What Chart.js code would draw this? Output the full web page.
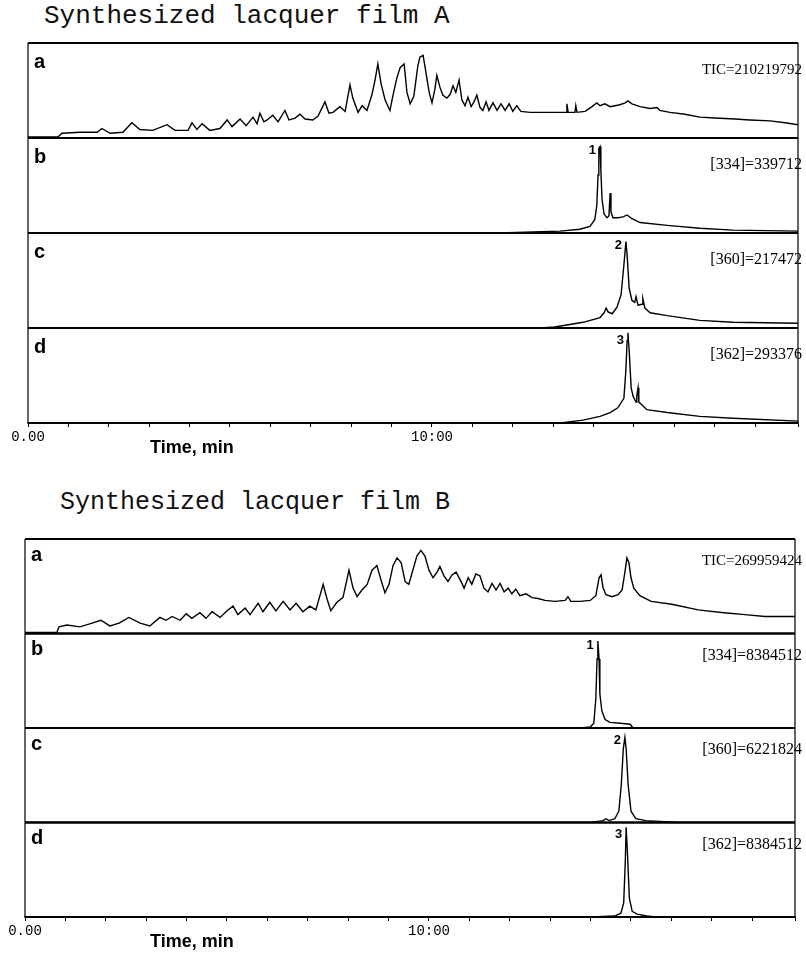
<!DOCTYPE html>
<html>
<head>
<meta charset="utf-8">
<script src="https://cdn.jsdelivr.net/npm/chart.js@4.4.1/dist/chart.umd.min.js"></script>
<style>
  body { margin: 0; background: #fff; width: 806px; height: 954px; position: relative; overflow: hidden; }
  .title { position: absolute; font-family: "Liberation Mono", monospace; color: #111; white-space: pre; line-height: 1; }
  canvas { position: absolute; left: 0; }
</style>
</head>
<body>
<div class="title" style="left:44px; top:3px; font-size:26px;">Synthesized lacquer film A</div>
<canvas id="figA" width="806" height="440" style="top:30px"></canvas>
<div class="title" style="left:60px; top:490px; font-size:25px;">Synthesized lacquer film B</div>
<canvas id="figB" width="806" height="434" style="top:520px"></canvas>
<script>
// --- DATA (time in min, intensity in % of panel full scale) ---
const runEnd = 19.06;
const tickValues = [0, 10];
const tickTexts = ['0.00', '10:00'];
const axisTitle = 'Time, min';
const panelLetters = ['a', 'b', 'c', 'd'];
const peakNumbers = ['1', '2', '3'];

const labelsA = ['TIC=210219792', '[334]=339712', '[360]=217472', '[362]=293376'];
const labelsB = ['TIC=269959424', '[334]=8384512', '[360]=6221824', '[362]=8384512'];
const peakTimesA = [14.16, 14.80, 14.85];
const peakTimesB = [14.18, 14.85, 14.88];

const filmA_tic = [[0,1],[0.74,1],[0.84,5],[1.29,6],[1.71,6],[1.83,10],[2.03,5],[2.35,6],[2.57,16],[2.77,9],[3.09,8],[3.44,14],[3.64,8],[3.96,8],[4.06,16],[4.18,9],[4.31,15],[4.50,8],[4.75,10],[4.93,19],[5.05,12],[5.25,20],[5.40,13],[5.57,22],[5.67,15],[5.74,26],[5.84,17],[5.92,19],[6.06,24],[6.19,17],[6.36,29],[6.46,19],[6.61,21],[6.73,25],[6.86,20],[7.05,19],[7.18,23],[7.35,38],[7.45,26],[7.55,27],[7.72,33],[7.85,28],[7.97,56],[8.04,42],[8.17,27],[8.27,34],[8.39,29],[8.51,45],[8.59,61],[8.66,78],[8.74,57],[8.84,40],[8.96,29],[9.03,44],[9.13,63],[9.21,74],[9.31,78],[9.38,48],[9.46,36],[9.55,44],[9.65,76],[9.70,85],[9.78,87],[9.85,69],[9.93,48],[10.00,37],[10.07,51],[10.12,66],[10.20,53],[10.27,45],[10.37,42],[10.45,46],[10.52,55],[10.59,48],[10.67,61],[10.74,40],[10.82,34],[10.89,43],[10.97,33],[11.04,38],[11.11,45],[11.19,32],[11.26,29],[11.34,38],[11.41,29],[11.51,37],[11.61,29],[11.71,36],[11.81,29],[11.91,36],[12.00,28],[12.10,34],[12.20,28],[12.43,27],[12.80,27],[13.17,27],[13.32,27],[13.34,36],[13.37,27],[13.54,27],[13.56,34],[13.59,27],[13.79,28],[13.96,33],[14.08,37],[14.16,34],[14.28,36],[14.41,33],[14.53,34],[14.65,35],[14.78,37],[14.85,39],[14.95,36],[15.15,33],[15.40,31],[15.57,32],[15.64,29],[15.89,27],[16.26,25],[16.63,22],[17.00,21],[17.50,20],[17.87,19],[18.37,18],[18.74,16],[19.06,14]];
const filmA_334 = [[0,0],[11.68,0],[12.50,1],[13.17,2],[13.66,4],[13.91,7],[14.03,14],[14.08,29],[14.11,61],[14.13,89],[14.16,91],[14.18,66],[14.21,35],[14.26,20],[14.33,16],[14.38,18],[14.41,42],[14.43,22],[14.48,16],[14.60,16],[14.73,17],[14.83,19],[14.95,15],[15.15,11],[15.82,8],[16.63,5],[17.45,3],[19.06,2]];
const filmA_360 = [[0,0],[12.67,0],[13.04,1],[13.74,6],[14.16,11],[14.26,16],[14.31,21],[14.36,17],[14.46,15],[14.58,22],[14.68,35],[14.75,66],[14.80,91],[14.83,77],[14.88,42],[14.95,29],[15.02,27],[15.05,33],[15.10,24],[15.20,25],[15.22,31],[15.27,21],[15.40,16],[15.82,13],[16.63,8],[17.45,6],[19.06,5]];
const filmA_362 = [[0,0],[13.17,0],[13.74,3],[14.16,7],[14.41,11],[14.60,16],[14.75,26],[14.80,56],[14.83,87],[14.85,95],[14.88,77],[14.93,37],[14.98,28],[15.05,22],[15.07,29],[15.10,37],[15.12,22],[15.20,19],[15.32,14],[15.82,11],[16.63,7],[17.45,5],[19.06,2]];

const filmB_tic = [[0,1],[0.79,1],[0.84,7],[1.04,9],[1.36,7],[1.66,11],[1.88,14],[2.10,8],[2.33,11],[2.57,17],[2.85,11],[3.09,8],[3.34,17],[3.49,14],[3.64,18],[3.84,14],[3.99,21],[4.13,16],[4.33,22],[4.48,16],[4.63,23],[4.83,17],[5.00,24],[5.15,29],[5.27,20],[5.45,27],[5.57,20],[5.77,32],[5.89,23],[6.06,33],[6.21,24],[6.39,34],[6.56,25],[6.71,32],[6.88,23],[7.05,29],[7.20,25],[7.38,52],[7.48,36],[7.57,24],[7.72,33],[7.87,38],[8.02,67],[8.12,48],[8.22,39],[8.34,46],[8.47,52],[8.59,67],[8.71,72],[8.81,57],[8.91,43],[9.01,52],[9.11,72],[9.21,80],[9.31,75],[9.41,55],[9.50,52],[9.60,67],[9.70,82],[9.80,88],[9.90,82],[10.00,67],[10.10,59],[10.20,65],[10.27,71],[10.37,61],[10.47,55],[10.57,62],[10.67,65],[10.77,57],[10.87,48],[10.97,59],[11.06,52],[11.16,63],[11.26,61],[11.36,48],[11.46,44],[11.56,53],[11.66,46],[11.76,53],[11.86,44],[11.96,48],[12.05,42],[12.15,47],[12.25,40],[12.40,42],[12.55,38],[12.70,37],[12.87,35],[13.12,34],[13.37,35],[13.44,39],[13.51,34],[13.74,34],[13.99,35],[14.13,40],[14.21,59],[14.26,62],[14.31,48],[14.38,41],[14.53,39],[14.68,41],[14.78,46],[14.85,65],[14.90,80],[14.95,75],[15.00,59],[15.07,48],[15.22,40],[15.50,34],[16.01,31],[16.66,25],[17.30,22],[17.82,20],[18.32,18],[19.06,18]];
const filmB_334 = [[0,0],[13.74,0],[13.99,1],[14.08,5],[14.13,31],[14.16,73],[14.18,92],[14.21,73],[14.23,36],[14.28,18],[14.36,9],[14.48,6],[14.73,5],[14.98,4],[15.05,0],[19.06,0]];
const filmB_360 = [[0,0],[13.99,0],[14.31,2],[14.38,4],[14.46,2],[14.60,4],[14.70,12],[14.76,40],[14.81,78],[14.85,90],[14.88,78],[14.93,40],[15.00,12],[15.12,4],[15.37,2],[15.72,1],[16.20,0],[19.06,0]];
const filmB_362 = [[0,0],[14.00,0],[14.60,1],[14.75,4],[14.82,15],[14.86,60],[14.88,95],[14.91,70],[14.96,20],[15.03,6],[15.15,3],[15.40,1],[15.60,0],[19.06,0]];

// --- frames + texts drawn from the scales ---
const panelDecor = {
    id: 'panelDecor',
    afterDraw(chart, args, opts) {
        const { ctx, chartArea, scales } = chart;
        const L = chartArea.left, R = chartArea.right;
        ctx.save();
        ctx.strokeStyle = '#000';
        ctx.fillStyle = '#000';
        ['ya', 'yb', 'yc', 'yd'].forEach((id, i) => {
            const s = scales[id];
            // horizontal borders thick, verticals thin
            ctx.lineWidth = 2;
            ctx.beginPath();
            ctx.moveTo(L, s.top); ctx.lineTo(R, s.top);
            ctx.moveTo(L, s.bottom); ctx.lineTo(R, s.bottom);
            ctx.stroke();
            ctx.lineWidth = 1.2;
            ctx.beginPath();
            ctx.moveTo(L, s.top); ctx.lineTo(L, s.bottom);
            ctx.moveTo(R, s.top); ctx.lineTo(R, s.bottom);
            ctx.stroke();

            ctx.textBaseline = 'middle';
            ctx.textAlign = 'left';
            ctx.font = 'bold 20px "Liberation Sans", Arial, sans-serif';
            ctx.fillText(panelLetters[i], L + 6, s.top + opts.letterDy);

            ctx.textAlign = 'right';
            ctx.font = (i === 0 ? '15px' : '16px') + ' "Liberation Serif", serif';
            ctx.fillText(opts.labels[i], 802, s.top + opts.labelDy);

            if (i > 0) {
                const px = scales.x.getPixelForValue(opts.peaks[i - 1]);
                ctx.font = 'bold 13px "Liberation Sans", Arial, sans-serif';
                ctx.fillText(peakNumbers[i - 1], px - 4, s.top + 12);
            }
        });
        ctx.textAlign = 'left';
        ctx.textBaseline = 'middle';
        ctx.font = 'bold 18px "Liberation Sans", Arial, sans-serif';
        ctx.fillText(axisTitle, 150, chartArea.bottom + 25);
        ctx.restore();
    }
};

function buildFigure(canvasId, traces, labels, peaks, pad, letterDy, labelDy) {
    const ids = ['ya', 'yb', 'yc', 'yd'];
    const scales = {
        x: {
            type: 'linear', min: 0, max: runEnd,
            afterFit: (s) => { s.height = 30; },
            border: { display: true, color: '#000', width: 1.5 },
            grid: { display: true, drawOnChartArea: false, drawTicks: true, tickLength: 4, color: '#000', lineWidth: 1 },
            ticks: {
                stepSize: 1, autoSkip: false, maxRotation: 0, padding: 2, color: '#000',
                font: { family: '"Liberation Mono", monospace', size: 14 },
                callback: (v) => {
                    const k = tickValues.findIndex(t => Math.abs(t - v) < 1e-6);
                    return k >= 0 ? tickTexts[k] : '';
                }
            }
        }
    };
    ids.forEach((id, i) => {
        scales[id] = {
            type: 'linear', position: 'left', stack: 'panels', stackWeight: 1, weight: 4 - i,
            min: 0, max: 100,
            ticks: { display: false },
            grid: { display: false, drawTicks: false },
            border: { display: false }
        };
    });

    return new Chart(document.getElementById(canvasId), {
        type: 'line',
        data: {
            datasets: traces.map((tr, i) => ({
                data: tr.map(p => ({ x: p[0], y: p[1] })),
                yAxisID: ids[i],
                borderColor: '#000',
                borderWidth: 1.4,
                pointRadius: 0,
                tension: 0,
                fill: false
            }))
        },
        options: {
            responsive: false,
            animation: false,
            layout: { padding: pad },
            scales: scales,
            plugins: {
                legend: { display: false },
                tooltip: { enabled: false },
                panelDecor: { labels: labels, peaks: peaks, letterDy: letterDy, labelDy: labelDy }
            }
        },
        plugins: [panelDecor]
    });
}

buildFigure('figA', [filmA_tic, filmA_334, filmA_360, filmA_362], labelsA, peakTimesA,
    { left: 28, right: 8, top: 13, bottom: 17 }, 19, 27);
buildFigure('figB', [filmB_tic, filmB_334, filmB_360, filmB_362], labelsB, peakTimesB,
    { left: 25, right: 11, top: 19, bottom: 7 }, 16, 22);
</script>
</body>
</html>
